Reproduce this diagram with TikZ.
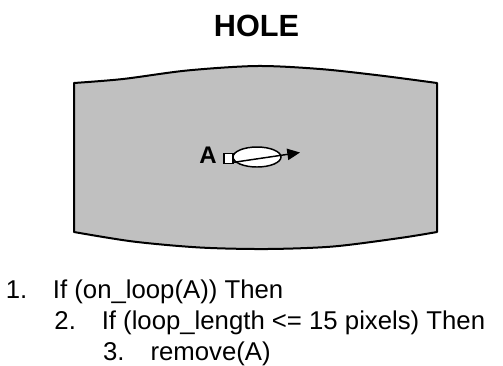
\documentclass[tikz,border=0pt]{standalone}
\usepackage{xcolor}
\usepackage{fontspec}
\setmainfont{Liberation Sans}
\usepackage{tikz}
\usetikzlibrary{positioning,arrows.meta,shapes.geometric}
\definecolor{relleno}{RGB}{192,192,192}

\begin{document}
\begin{tikzpicture}[x=0.75pt,y=-0.75pt,
  titulo/.style={font=\fontsize{23}{27}\selectfont\bfseries, inner sep=0pt,
                 anchor=base},
  paso/.style={font=\fontsize{19.3}{23}\selectfont, inner sep=0pt,
               anchor=base west},
  borde/.style={draw=black, line width=1.5pt, line join=round},
  flecha/.style={-{Triangle[length=9.5pt,width=8.5pt]}, line width=1.1pt}]
  \useasboundingbox (0,0) rectangle (503,365);
  % Titulo
  \node[titulo] (tit) at (256.5,36) {HOLE};
  % Hueco
  \draw[borde, fill=relleno]
    plot[smooth, tension=0.5] coordinates {(74,83) (123,79) (187,70.5)
      (257,66) (320,69) (380,75.5) (437,83)}
    -- (437,232)
    -- plot[smooth, tension=0.5] coordinates {(437,232) (400,238)
      (333,246.5) (267,249) (200,247.5) (133,241.5) (74,232)}
    -- cycle;
  % Punto A y su lazo
  \node[font=\fontsize{18}{22}\selectfont\bfseries, inner sep=0pt,
        anchor=base east] (etiq) at (217,163) {A};
  \node[draw, fill=white, line width=1.1pt, minimum width=7pt,
        minimum height=7.5pt, inner sep=0pt] (cuadro) at (228.5,158.5) {};
  \node[ellipse, draw, fill=white, line width=1.1pt, minimum width=36pt,
        minimum height=15pt, inner sep=0pt] (lazo) at (257,157) {};
  \coordinate (punta) at (300,152.5);
  \draw[flecha] (cuadro.-35) -- (punta);
  % Algoritmo
  \foreach \num/\txt [count=\i] in {1./{If (on\_loop(A)) Then},
      2./{If (loop\_length <= 15 pixels) Then}, 3./{remove(A)}}{
    \node[paso] (num\i) at (5.5+48.7*\i-48.7,298.5+31*\i-31) {\num};
    \node[paso] (txt\i) at (52.7+48.8*\i-48.8,298.5+31*\i-31) {\txt};
  }
\end{tikzpicture}
\end{document}
